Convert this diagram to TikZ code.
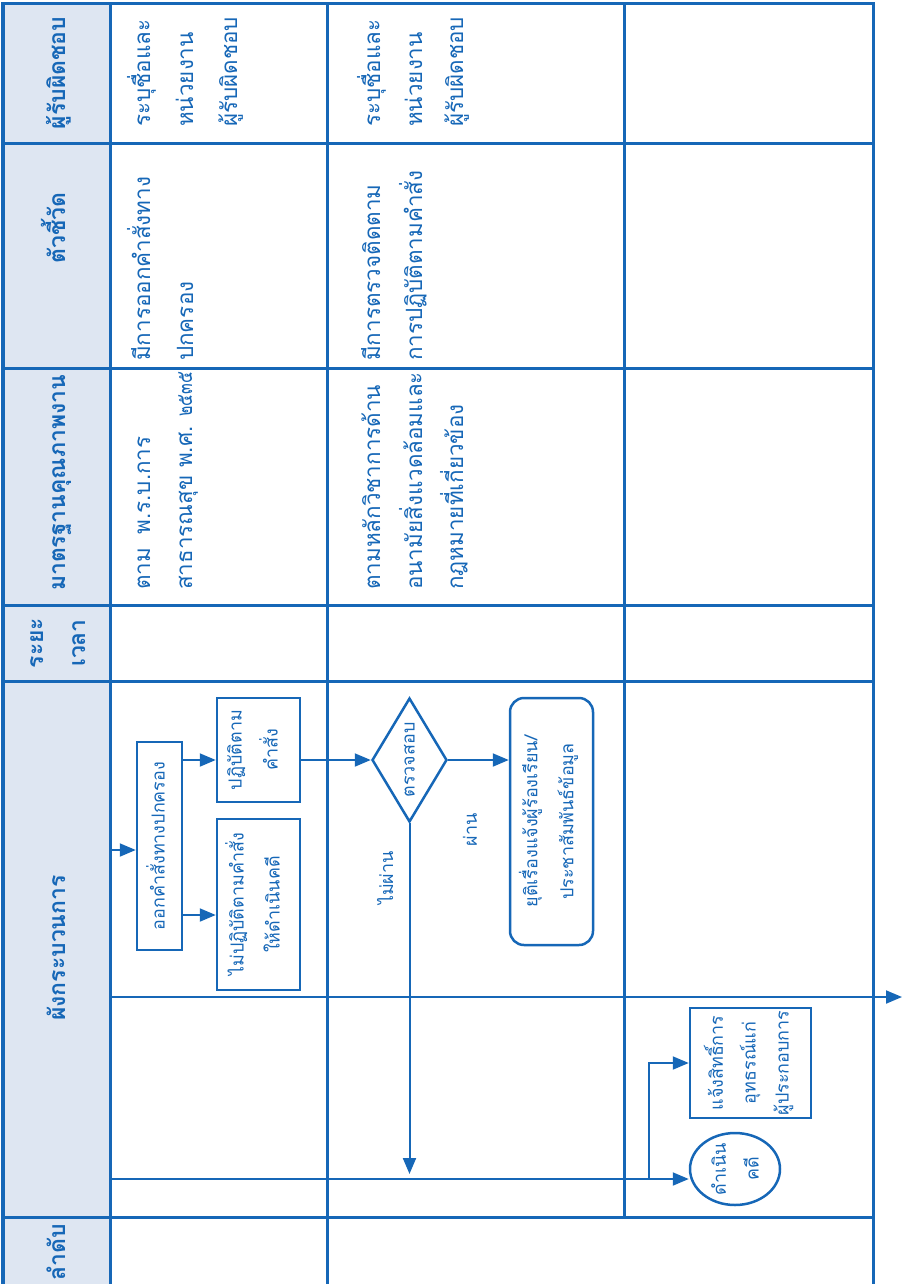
\documentclass[tikz,border=0pt]{standalone}
\usepackage{fontspec}
\usepackage{graphicx}
\setmainfont[Script=Thai]{Loma}
\usetikzlibrary{shapes.geometric,arrows.meta}
\definecolor{bl}{HTML}{1667B7}
\definecolor{hd}{HTML}{DEE6F2}
\newcommand{\thdig}[1]{\scalebox{0.7}[1]{#1}}
\begin{document}
\begin{tikzpicture}[x=1bp,y=-1bp,
  tline/.style={draw=bl,line width=3bp,line cap=rect},
  tx/.style={rotate=90,inner sep=0,text=bl,font=\fontsize{22.5}{42}\selectfont,anchor=base west},
  hx/.style={rotate=90,inner sep=0,text=bl,font=\bfseries\fontsize{23}{42}\selectfont,anchor=base},
  fx/.style={rotate=90,inner sep=0,text=bl,font=\fontsize{18}{36}\selectfont,align=center},
  fxs/.style={fx,font=\fontsize{18}{33}\selectfont},
  box/.style={draw=bl,line width=2.5bp,inner sep=0},
  arr/.style={draw=bl,line width=2bp,-{Triangle[length=16bp,width=13bp]}}]
\useasboundingbox (0,0) rectangle (905,1284);
% header band
\fill[hd] (3,3) rectangle (110,1284);
% table lines
\foreach \yy in {3,143,368,605,681,1217} \draw[tline] (3,\yy) -- (873,\yy);
\foreach \xx in {3,110,327,873} \draw[tline] (\xx,3) -- (\xx,1284);
\draw[tline] (624,3) -- (624,1217);
% headers
\node[hx] (h1) at (65,73) {ผู้รับผิดชอบ};
\node[hx] (h2) at (65,228) {ตัวชี้วัด};
\node[hx] (h3) at (65,483) {มาตรฐานคุณภาพงาน};
\node[hx] (h4a) at (43,643) {ระยะ};
\node[hx] (h4b) at (85,643) {เวลา};
\node[hx] (h5) at (65,948) {ผังกระบวนการ};
\node[hx] (h6) at (65,1252) {ลำดับ};
% row 1 texts
\node[tx] (r1p1) at (150,127) {ระบุชื่อและ};
\node[tx] (r1p2) at (193,127) {หน่วยงาน};
\node[tx] (r1p3) at (237,127) {ผู้รับผิดชอบ};
\node[tx] (r1k1) at (150,361) {มีการออกคำสั่งทาง};
\node[tx] (r1k2) at (193,361) {ปกครอง};
\node[tx] (r1s1) at (150,590) {ตาม\hspace{6bp} พ.ร.บ.การ};
\node[tx] (r1s2) at (192,590) {สาธารณสุข พ.ศ. \thdig{๒๕๓๕}};
% row 2 texts
\node[tx] (r2p1) at (380,127) {ระบุชื่อและ};
\node[tx] (r2p2) at (422,127) {หน่วยงาน};
\node[tx] (r2p3) at (463,127) {ผู้รับผิดชอบ};
\node[tx] (r2k1) at (380,361) {มีการตรวจติดตาม};
\node[tx] (r2k2) at (422,361) {การปฏิบัติตามคำสั่ง};
\node[tx] (r2s1) at (380,590) {ตามหลักวิชาการด้าน};
\node[tx] (r2s2) at (422,590) {อนามัยสิ่งแวดล้อมและ};
\node[tx] (r2s3) at (463,590) {กฎหมายที่เกี่ยวข้อง};
% flow shapes
\node[box,minimum width=45bp,minimum height=208bp] (A) at (159.5,846) {};
\node[fx] (At) at ([xshift=-4bp]A.center) {ออกคำสั่งทางปกครอง};
\node[box,minimum width=83bp,minimum height=104bp] (B) at (258.5,750) {};
\node[fx] (Bt) at ([xshift=-6bp]B.center) {ปฏิบัติตาม\\คำสั่ง};
\node[box,minimum width=83bp,minimum height=171bp] (C) at (258.5,904.5) {};
\node[fx] (Ct) at ([xshift=-6bp]C.center) {ไม่ปฏิบัติตามคำสั่ง\\ให้ดำเนินคดี};
\node[box,diamond,minimum width=75bp,minimum height=124bp] (D) at (409.5,760) {};
\node[fx] (Dt) at (D) {ตรวจสอบ};
\node[box,rounded corners=14bp,minimum width=83bp,minimum height=247bp] (E) at (551.5,821.5) {};
\node[fx] (Et) at ([xshift=-3bp]E.center) {ยุติเรื่องแจ้งผู้ร้องเรียน/\\ประชาสัมพันธ์ข้อมูล};
\node[box,ellipse,minimum width=90bp,minimum height=72bp] (F) at (735,1169) {};
\node[fxs] (Ft) at (F) {ดำเนิน\\คดี};
\node[box,minimum width=121bp,minimum height=110bp] (G) at (750.5,1063) {};
\node[fxs] (Gt) at ([xshift=-2bp]G.center) {แจ้งสิทธิ์การ\\อุทธรณ์แก่\\ผู้ประกอบการ};
\node[fx] (pass) at (470,830) {ผ่าน};
\node[fx] (fail) at (385,878) {ไม่ผ่าน};
% connectors
\coordinate (c1) at (110,850);
\draw[arr] (c1) -- (c1 -| A.west);
\draw[arr] (A.east |- D) -- (B.west |- D);
\coordinate (c2) at (182,915);
\draw[arr] (A.east |- c2) -- (C.west |- c2);
\draw[arr] (B.east |- D) -- (D.west);
\draw[arr] (D.east) -- (E.west |- D);
\coordinate (d1) at (409.5,1174);
\draw[arr] (D.south) -- (d1);
\coordinate (s1) at (110,997);
\coordinate (s2) at (902,997);
\draw[arr] (s1) -- (s2);
\coordinate (f1) at (110,1179);
\draw[arr] (f1) -- (f1 -| F.west);
\coordinate (br) at (649,1179);
\draw[arr] (br) |- (G.west);
\end{tikzpicture}
\end{document}
